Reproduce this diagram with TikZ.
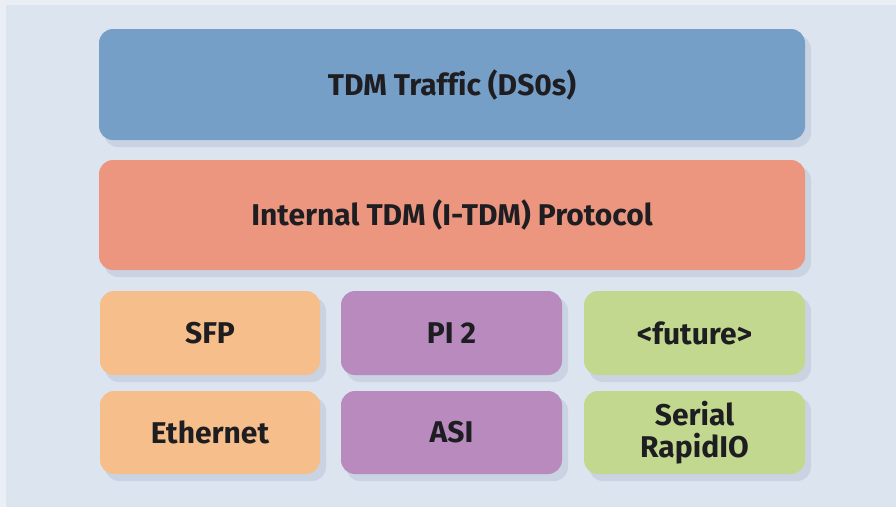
\documentclass[tikz,border=0pt]{standalone}
\usepackage{fontspec}
\setmainfont[Ligatures=NoCommon]{Fira Sans}
\definecolor{bgc}{HTML}{DCE4F0}
\definecolor{edgec}{HTML}{EAEFF6}
\definecolor{shadowc}{HTML}{C9D3E2}
\definecolor{bluec}{HTML}{769FC8}
\definecolor{salmonc}{HTML}{EC9680}
\definecolor{orangec}{HTML}{F5BE8A}
\definecolor{purplec}{HTML}{B98ABD}
\definecolor{greenc}{HTML}{C3D88F}
\definecolor{textc}{HTML}{1E1E22}
\tikzset{
  label/.style={text=textc, font=\bfseries\fontsize{30}{32}\selectfont, align=center},
  shade/.style={fill=shadowc, rounded corners=14pt}
}
\newcommand{\blockat}[6]{%
  % #1 name, #2 x0, #3 y0, #4 x1, #5 y1, #6 colour
  \fill[shade] (#2+5,#3+6) rectangle (#4+6,#5+7);
  \fill[#6, rounded corners=14pt] (#2,#3) rectangle (#4,#5);
  \coordinate (#1) at ({(#2+#4)/2},{(#3+#5)/2});
}
\begin{document}
\begin{tikzpicture}[x=1pt,y=-1pt]
  \fill[edgec] (0,0) rectangle (896,507);
  \fill[bgc] (6,5) rectangle (896,507);
  \useasboundingbox (0,0) rectangle (896,507);

  % protocol layers
  \blockat{tdm}{99}{29}{805}{140}{bluec}
  \blockat{itdm}{99}{160}{805}{270}{salmonc}
  \node[label] at (tdm) {TDM Traffic (DS0s)};
  \node[label] at (itdm) {Internal TDM (I-TDM) Protocol};

  % transport options
  \blockat{sfp}{100}{291}{320}{375}{orangec}
  \blockat{pi}{341}{291}{562}{375}{purplec}
  \blockat{fut}{584}{291}{805}{375}{greenc}
  \blockat{eth}{100}{391}{320}{474}{orangec}
  \blockat{asi}{341}{391}{562}{474}{purplec}
  \blockat{srio}{584}{391}{805}{474}{greenc}
  \node[label] at (sfp) {SFP};
  \node[label] at (pi) {PI 2};
  \node[label] at (fut) {<future>};
  \node[label] at (eth) {Ethernet};
  \node[label] at (asi) {ASI};
  \node[label] at (srio) {Serial\\RapidIO};
\end{tikzpicture}
\end{document}
